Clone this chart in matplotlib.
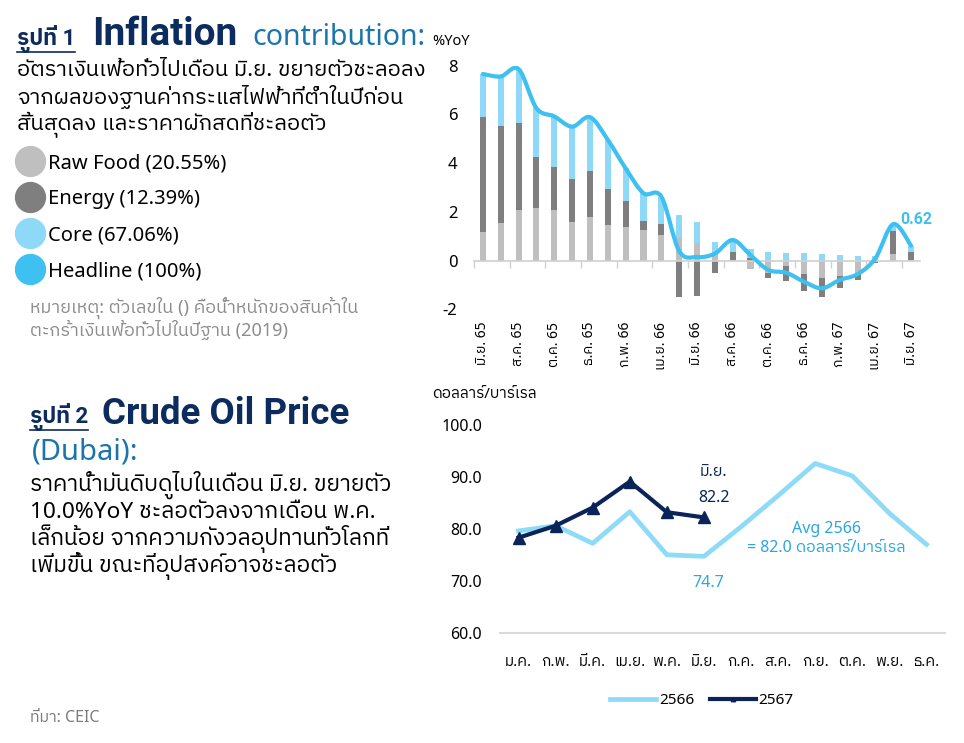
import numpy as np
import matplotlib
matplotlib.use("Agg")
import matplotlib.pyplot as plt
import matplotlib.font_manager as fm
from matplotlib.ft2font import FT2Font
from matplotlib.path import Path
from matplotlib.patches import PathPatch
from matplotlib.lines import Line2D

# ---- data: inflation contribution (%YoY), Jun 65 .. Jun 67
months1 = ["มิ.ย. 65", "", "ส.ค. 65", "", "ต.ค. 65", "", "ธ.ค. 65", "", "ก.พ. 66", "",
           "เม.ย. 66", "", "มิ.ย. 66", "", "ส.ค. 66", "", "ต.ค. 66", "", "ธ.ค. 66", "",
           "ก.พ. 67", "", "เม.ย. 67", "", "มิ.ย. 67"]
raw_food = [1.19, 1.56, 2.08, 2.18, 2.08, 1.60, 1.81, 1.47, 1.40, 1.26, 1.05, 0.92, 0.71,
            0.30, 0.02, -0.32, -0.50, -0.22, -0.55, -0.70, -0.63, -0.49, 0.05, 0.27, 0.02]
energy = [4.70, 3.97, 3.56, 2.09, 1.78, 1.76, 1.87, 1.48, 1.05, 0.37, 0.46, -1.48, -1.45,
          -0.49, 0.33, 0.12, -0.22, -0.60, -0.70, -0.78, -0.48, -0.30, -0.08, 0.96, 0.33]
core = [1.77, 2.03, 2.22, 1.99, 2.06, 2.14, 2.21, 2.01, 1.34, 1.14, 1.12, 0.96, 0.89,
        0.48, 0.50, 0.38, 0.34, 0.30, 0.30, 0.26, 0.22, 0.19, 0.15, 0.27, 0.27]
headline = [7.66, 7.56, 7.86, 6.26, 5.92, 5.50, 5.89, 4.96, 3.79, 2.77, 2.63, 0.40, 0.15,
            0.29, 0.85, 0.23, -0.38, -0.49, -0.86, -1.13, -0.79, -0.55, 0.10, 1.50, 0.62]
legend1 = ["Raw Food (20.55%)", "Energy (12.39%)", "Core (67.06%)", "Headline (100%)"]

# ---- data: Dubai crude (USD/bbl)
months2 = ["ม.ค.", "ก.พ.", "มี.ค.", "เม.ย.", "พ.ค.", "มิ.ย.", "ก.ค.", "ส.ค.", "ก.ย.", "ต.ค.", "พ.ย.", "ธ.ค."]
oil_2566 = [79.6, 80.6, 77.2, 83.3, 75.0, 74.7, 80.4, 86.4, 92.6, 90.2, 83.0, 77.0]
oil_2567 = [78.3, 80.6, 84.1, 89.1, 83.2, 82.2]

C_RAW, C_ENE, C_CORE, C_HEAD = "#BFBFBF", "#7F7F7F", "#8ED8F8", "#3EC0F0"
NAVY, BLUE, MID = "#0C2B5E", "#1B75AC", "#2BA6DE"
C_66, C_67 = "#8EDBF7", "#0A2459"

# find a font that has Thai glyphs
thai = None
cands = sorted(fm.fontManager.ttflist, key=lambda f: ("Thai" not in f.name, f.name))
for f in cands:
    try:
        if 0x0E01 in FT2Font(f.fname).get_charmap():
            thai = f.name
            break
    except Exception:
        pass
# a latin family that really has a bold face
bold_lat = "DejaVu Sans"
for name in ["Roboto", "Lato", "Open Sans", "Inter", "Liberation Sans"]:
    try:
        p = fm.findfont(fm.FontProperties(family=name, weight="bold"), fallback_to_default=False)
        if "bold" in p.lower():
            bold_lat = name
            break
    except Exception:
        pass
fams = ["Noto Sans"] + ([thai] if thai else []) + ["DejaVu Sans"]
fams_b = [bold_lat] + ([thai] if thai else []) + ["DejaVu Sans"]
plt.rcParams["font.family"] = fams
plt.rcParams["axes.unicode_minus"] = False

W, H = 964, 743
fig = plt.figure(figsize=(W / 100, H / 100), dpi=100)


def fx(x):
    return x / W


def fy(y):
    return 1 - y / H


def smooth_path(xs, ys):
    pts = np.column_stack([xs, ys]).astype(float)
    n = len(pts)
    verts = [pts[0]]
    codes = [Path.MOVETO]
    for i in range(n - 1):
        p0 = pts[max(i - 1, 0)]
        p1 = pts[i]
        p2 = pts[i + 1]
        p3 = pts[min(i + 2, n - 1)]
        verts += [p1 + (p2 - p0) / 6, p2 - (p3 - p1) / 6, p2]
        codes += [Path.CURVE4] * 3
    return Path(verts, codes)


# ================= chart 1 =================
ax1 = fig.add_axes([fx(474), fy(309.5), (920 - 474) / W, (309.5 - 65.7) / H])
x1 = np.arange(len(headline))
rf = np.array(raw_food)
en = np.array(energy)
co = np.array(core)
pos_base = np.zeros(len(x1))
neg_base = np.zeros(len(x1))
for vals, col in [(rf, C_RAW), (en, C_ENE), (co, C_CORE)]:
    b = np.where(vals >= 0, pos_base, neg_base)
    ax1.bar(x1, vals, bottom=b, width=0.34, color=col, zorder=2)
    pos_base = pos_base + np.where(vals >= 0, vals, 0)
    neg_base = neg_base + np.where(vals < 0, vals, 0)
ax1.add_patch(PathPatch(smooth_path(x1, headline), fill=False, ec=C_HEAD, lw=3.0,
                        capstyle="round", joinstyle="round", zorder=3))
ax1.annotate(f"{headline[-1]:.2f}", (x1[-1], headline[-1]), xytext=(4, 19),
             textcoords="offset points", ha="center", va="center",
             color=C_HEAD, fontsize=11.5, fontweight="bold", family=fams_b)
ax1.set_xlim(-0.5, len(x1) - 0.5)
ax1.set_ylim(-2, 8)
ax1.set_yticks([-2, 0, 2, 4, 6, 8])
ax1.tick_params(axis="y", length=0, labelsize=12, pad=12)
ax1.set_xticks(x1[::2])
ax1.set_xticklabels(months1[::2], fontsize=10)
ax1.set_xticks(np.arange(-0.5, len(x1) - 1, 2), minor=True)
ax1.tick_params(axis="x", which="major", length=0, pad=44, labelrotation=90)
ax1.tick_params(axis="x", which="minor", length=5, color="#D0D0D0", width=1)
for s in ["top", "right", "left"]:
    ax1.spines[s].set_visible(False)
ax1.spines["bottom"].set_position(("data", 0))
ax1.spines["bottom"].set_color("#D0D0D0")
ax1.spines["bottom"].set_linewidth(1.2)
ax1.patch.set_alpha(0)
fig.text(fx(432), fy(45), "%YoY", fontsize=10.5, va="baseline")

# ================= chart 2 =================
ax2 = fig.add_axes([fx(500), fy(632.7), 445 / W, (632.7 - 425) / H])
x2 = np.arange(len(months2))
ax2.plot(x2, oil_2566, color=C_66, lw=3.4, solid_joinstyle="round", label="2566", zorder=2)
ax2.plot(x2[:len(oil_2567)], oil_2567, color=C_67, lw=3.0, marker="^", ms=8,
         label="2567", zorder=3)
ax2.set_xlim(-0.5, 11.5)
ax2.set_ylim(60, 100)
ax2.set_yticks([60, 70, 80, 90, 100])
ax2.set_yticklabels([f"{v:.1f}" for v in [60, 70, 80, 90, 100]])
ax2.tick_params(axis="y", length=0, labelsize=11.5, pad=13)
ax2.set_xticks(x2)
ax2.set_xticklabels(months2, fontsize=11)
ax2.tick_params(axis="x", length=0, pad=16)
for s in ["top", "right", "left"]:
    ax2.spines[s].set_visible(False)
ax2.spines["bottom"].set_color("#D9D9D9")
ax2.spines["bottom"].set_linewidth(1.5)
ax2.patch.set_alpha(0)
j = len(oil_2567) - 1
ax2.annotate(f"{oil_2567[j]:.1f}", (x2[j], oil_2567[j]), xytext=(7, 14),
             textcoords="offset points", ha="center", va="center", color=C_67, fontsize=11.5)
ax2.annotate(months2[j], (x2[j], oil_2567[j]), xytext=(7, 33),
             textcoords="offset points", ha="center", va="center", color=C_67, fontsize=11.5)
ax2.annotate(f"{oil_2566[j]:.1f}", (x2[j], oil_2566[j]), xytext=(3, -19),
             textcoords="offset points", ha="center", va="center", color=MID, fontsize=11.5)
ax2.text(8.3, 78.2, "Avg 2566\n= 82.0 ดอลลาร์/บาร์เรล", ha="center", va="center",
         color=MID, fontsize=11.5, linespacing=1.25)
fig.text(fx(432), fy(395), "ดอลลาร์/บาร์เรล", fontsize=11, va="center")
ax2.legend(loc="center", bbox_to_anchor=(fx(702), fy(701)), bbox_transform=fig.transFigure,
           ncol=2, frameon=False, fontsize=11, handlelength=3.0, handletextpad=0.2,
           columnspacing=1.0, markerscale=0.4)

# ================= left side texts =================
t1 = fig.text(fx(17), fy(45), "รูปที่ 1", fontsize=16, fontweight="bold", color=NAVY,
              va="baseline", family=fams_b)
fig.text(fx(92), fy(45), "Inflation", fontsize=28, fontweight="bold", color=NAVY,
         va="baseline", family=fams_b)
fig.text(fx(252), fy(45), "contribution:", fontsize=20.5, color=BLUE, va="baseline")
para1 = ["อัตราเงินเฟ้อทั่วไปเดือน มิ.ย. ขยายตัวชะลอลง",
         "จากผลของฐานค่ากระแสไฟฟ้าที่ต่ำในปีก่อน",
         "สิ้นสุดลง และราคาผักสดที่ชะลอตัว"]
for k, line in enumerate(para1):
    fig.text(fx(17), fy(70 + 27 * k), line, fontsize=15.8, va="center")

handles = [Line2D([], [], ls="none", marker="o", ms=21.5, mfc=c, mec=c)
           for c in [C_RAW, C_ENE, C_CORE, C_HEAD]]
fig.legend(handles, legend1, loc="upper left", bbox_to_anchor=(fx(20), fy(153)),
           frameon=False, fontsize=14.5, handlelength=1.0, handletextpad=0.4,
           labelspacing=0.8, borderpad=0, borderaxespad=0)
fig.text(fx(30), fy(308), "หมายเหตุ: ตัวเลขใน () คือน้ำหนักของสินค้าใน", fontsize=13,
         color="#8C8C8C", va="center")
fig.text(fx(30), fy(330), "ตะกร้าเงินเฟ้อทั่วไปในปีฐาน (2019)", fontsize=13,
         color="#8C8C8C", va="center")

t2 = fig.text(fx(30), fy(423), "รูปที่ 2", fontsize=16, fontweight="bold", color=NAVY,
              va="baseline", family=fams_b)
fig.text(fx(102), fy(424), "Crude Oil Price", fontsize=26.5, fontweight="bold", color=NAVY,
         va="baseline", family=fams_b)
fig.text(fx(32), fy(452), "(Dubai):", fontsize=21, color=BLUE, va="center")
para2 = ["ราคาน้ำมันดิบดูไบในเดือน มิ.ย. ขยายตัว",
         "10.0%YoY ชะลอตัวลงจากเดือน พ.ค.",
         "เล็กน้อย จากความกังวลอุปทานทั่วโลกที่",
         "เพิ่มขึ้น ขณะที่อุปสงค์อาจชะลอตัว"]
for k, line in enumerate(para2):
    fig.text(fx(30), fy(485 + 27 * k), line, fontsize=16.3, va="center")
fig.text(fx(30), fy(718), "ที่มา: CEIC", fontsize=11.5, color="#7A7A7A", va="center")

# underline the figure numbers
fig.canvas.draw()
r = fig.canvas.get_renderer()
for t in (t1, t2):
    bb = t.get_window_extent(r).transformed(fig.transFigure.inverted())
    fig.add_artist(Line2D([bb.x0, bb.x1], [bb.y0 + 0.002, bb.y0 + 0.002], color=NAVY,
                          lw=1.2, transform=fig.transFigure))

fig.savefig("out.png", dpi=100)
